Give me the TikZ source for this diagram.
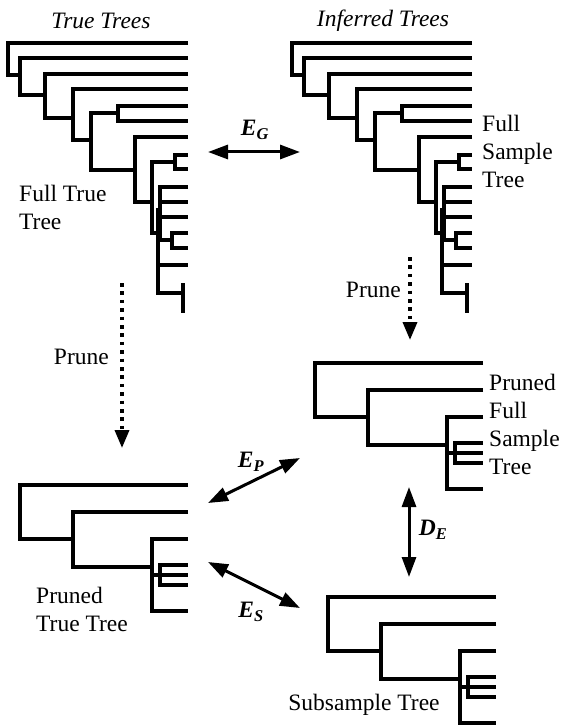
\documentclass[tikz,border=0pt]{standalone}
\usepackage{fontspec}
\setmainfont{Liberation Serif}
\usetikzlibrary{arrows.meta}
\tikzset{>={Triangle[length=20pt,width=14pt]}}

\newcommand{\dist}[2]{\textbf{\textit{#1}}\textsubscript{\textbf{\textit{#2}}}}

\begin{document}
\begin{tikzpicture}[x=1pt, y=-1pt]
  \tikzset{branch/.style = {line width=3.4pt}}
  \tikzset{tree label/.style = {inner sep=0pt, align=left, font=\fontsize{23.5}{28}\selectfont}}
  \tikzset{tree title/.style = {inner sep=0pt, font=\fontsize{23.5}{28}\selectfont\itshape}}
  \tikzset{dist arrow/.style = {<->, line width=3pt}}
  \tikzset{prune arrow/.style = {-{Triangle[length=18pt,width=14pt]}, line width=3.6pt,
      dash pattern=on 3.6pt off 4.8pt}}
  % the full tree, root at the top left
  \tikzset{full tree/.pic = {
      \draw[branch]
        (180,0) -| (0,32) -- (12,32)
        (180,15) -| (12,52) -- (37,52)
        (180,31) -| (37,75) -- (65,75)
        (180,46) -| (65,97) -- (83,97)
        (180,63) -| (110,78) -- (180,78)
        (110,70) -| (83,127) -- (127,127)
        (180,94) -| (127,159) -- (144,159)
        (180,112) -| (167,126) -- (180,126)
        (167,119) -| (144,190) -- (150,190)
        (180,144) -| (152,197) -- (164,197)
        (152,159) -- (180,159)
        (152,174) -- (180,174)
        (180,190) -| (164,205) -- (180,205)
        (150,165) -- (150,250) -- (175,250)
        (150,222) -- (180,222)
        (175,240) -- (175,270);
  }}
  % the pruned tree
  \tikzset{pruned tree/.pic = {
      \draw[branch]
        (168,0) -| (0,54) -- (53,54)
        (168,27) -| (53,82) -- (132,82)
        (168,54) -| (132,126) -- (168,126)
        (132,90) -- (140,90)
        (168,80) -| (140,100) -- (168,100)
        (140,90) -- (168,90);
  }}

  \useasboundingbox (0,0) rectangle (560,727);

  \node[tree title] (title-true) at (101,21) {True Trees};
  \node[tree title] (title-inf) at (383,21) {Inferred Trees};

  \pic (full-true) at (8,43) {full tree};
  \pic (full-sample) at (292,43) {full tree};
  \pic (pruned-true) at (20,485) {pruned tree};
  \pic (pruned-sample) at (315,363) {pruned tree};
  \pic (subsample) at (328,597) {pruned tree};

  \node[tree label, anchor=west] (lab-full-true) at (19,207) {Full True\\Tree};
  \node[tree label, anchor=west] (lab-full-sample) at (482,151) {Full\\Sample\\Tree};
  \node[tree label, anchor=west] (lab-pruned-sample) at (489,424) {Pruned\\Full\\Sample\\Tree};
  \node[tree label, anchor=west] (lab-pruned-true) at (36,609) {Pruned\\True Tree};
  \node[tree label] (lab-sub) at (364,705) {Subsample Tree};

  % pruning steps
  \coordinate (prune-l-top) at (122,283);
  \coordinate (prune-l-bot) at (122,448);
  \coordinate (prune-r-top) at (410,257);
  \coordinate (prune-r-bot) at (410,340);
  \draw[prune arrow] (prune-l-top) -- (prune-l-bot);
  \draw[prune arrow] (prune-r-top) -- (prune-r-bot);
  \node[tree label, anchor=east] (lab-prune-l) at (109,357) {Prune};
  \node[tree label, anchor=east] (lab-prune-r) at (401,290) {Prune};

  % distances
  \coordinate (EG-l) at (208,152);
  \coordinate (EG-r) at (300,152);
  \coordinate (EP-l) at (208,503);
  \coordinate (EP-r) at (300,458);
  \coordinate (ES-l) at (208,562);
  \coordinate (ES-r) at (300,608);
  \coordinate (DE-t) at (409,487);
  \coordinate (DE-b) at (409,577);
  \draw[dist arrow] (EG-l) -- (EG-r);
  \draw[dist arrow] (EP-l) -- (EP-r);
  \draw[dist arrow] (ES-l) -- (ES-r);
  \draw[dist arrow] (DE-t) -- (DE-b);
  \node[tree label] (lab-EG) at (255,130) {\dist{E}{G}};
  \node[tree label] (lab-EP) at (251,462) {\dist{E}{P}};
  \node[tree label] (lab-ES) at (251,612) {\dist{E}{S}};
  \node[tree label] (lab-DE) at (433,530) {\dist{D}{E}};
\end{tikzpicture}
\end{document}
